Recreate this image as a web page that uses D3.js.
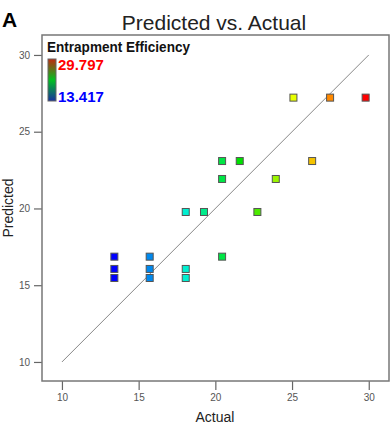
<!DOCTYPE html>
<html><head><meta charset="utf-8">
<script src="https://cdn.jsdelivr.net/npm/d3@7"></script>
<style>body{margin:0;background:#fff}svg{display:block}</style>
</head><body>
<svg id="c" width="392" height="436"></svg>
<script>
const actual    = [13.417,13.417,13.417,15.72,15.72,15.72,18.07,18.07,18.07,19.26,20.44,20.44,20.44,21.59,22.74,23.94,25.09,26.31,27.48,29.797];
const predicted = [16.86,16.06,15.47,16.86,16.06,15.47,19.77,16.06,15.47,19.77,23.09,21.92,16.86,23.09,19.77,21.92,27.22,23.09,27.22,27.22];
const xTicks = [10,15,20,25,30];
const yTicks = [10,15,20,25,30];
const legendRange = [13.417, 29.797];
const titleText = "Predicted vs. Actual";
const legendTitle = "Entrapment Efficiency";

const svg = d3.select("#c");
const L = 42, R = 389, T = 35, B = 381;
const x = d3.scaleLinear().domain([8.70, 31.32]).range([L, R]);
const y = d3.scaleLinear().domain([8.76, 31.3]).range([B, T]);

const color = d3.scaleLinear()
  .domain([13.417, 15.7, 18.1, 21.6, 25.1, 27.5, 29.797])
  .range(["#0000ff","#0088ee","#00f0d0","#00e000","#e8ff00","#ff8800","#ff0000"]);
const legendColor = d3.scaleLinear()
  .domain([0, 0.5, 1])
  .range(["#1530a0","#00c020","#c02a10"]);

// title + panel letter
svg.append("text").attr("x",2).attr("y",27).attr("font-family","Liberation Sans, Arial, sans-serif")
  .attr("font-weight","bold").attr("font-size",21).text("A");
svg.append("text").attr("x",214).attr("y",30).attr("text-anchor","middle")
  .attr("font-family","Liberation Sans, Arial, sans-serif").attr("font-size",21).attr("fill","#222").text(titleText);

// axes
const ax = svg.append("g").attr("transform",`translate(0,${B})`)
  .call(d3.axisBottom(x).tickValues(xTicks).tickSize(9).tickPadding(4));
const ay = svg.append("g").attr("transform",`translate(${L},0)`)
  .call(d3.axisLeft(y).tickValues(yTicks).tickSize(8).tickPadding(4));
[ax,ay].forEach(g=>{
  g.select(".domain").remove();
  g.selectAll("line").attr("stroke","#666").attr("stroke-width",1.2);
  g.selectAll("text").attr("fill","#555").attr("font-size",10)
    .attr("font-family","Liberation Sans, Arial, sans-serif");
});

// frame
svg.append("rect").attr("x",L).attr("y",T).attr("width",R-L).attr("height",B-T)
  .attr("fill","none").attr("stroke","#777").attr("stroke-width",1.5);

// axis labels
svg.append("text").attr("x",215).attr("y",422).attr("text-anchor","middle")
  .attr("font-family","Liberation Sans, Arial, sans-serif").attr("font-size",14).attr("fill","#222").text("Actual");
svg.append("text").attr("transform","translate(13,208) rotate(-90)").attr("text-anchor","middle")
  .attr("font-family","Liberation Sans, Arial, sans-serif").attr("font-size",14).attr("fill","#222").text("Predicted");

// diagonal
svg.append("line").attr("x1",x(10)).attr("y1",y(10)).attr("x2",x(30)).attr("y2",y(30))
  .attr("stroke","#888").attr("stroke-width",1);

// points
const s = 7;
svg.append("g").selectAll("rect").data(actual.map((a,i)=>({a,p:predicted[i]})))
  .join("rect")
  .attr("x",d=>x(d.a)-s/2).attr("y",d=>y(d.p)-s/2).attr("width",s).attr("height",s)
  .attr("fill",d=>color(d.a)).attr("stroke","#555").attr("stroke-width",1);

// legend
svg.append("text").attr("x",47).attr("y",52).attr("font-family","Liberation Sans, Arial, sans-serif")
  .attr("font-weight","bold").attr("font-size",14).attr("textLength",143).attr("lengthAdjust","spacingAndGlyphs")
  .attr("fill","#111").text(legendTitle);
const defs = svg.append("defs");
const grad = defs.append("linearGradient").attr("id","g").attr("x1",0).attr("y1",1).attr("x2",0).attr("y2",0);
d3.range(0,1.0001,0.1).forEach(t=>grad.append("stop").attr("offset",t).attr("stop-color",legendColor(t)));
svg.append("rect").attr("x",48).attr("y",59).attr("width",8).attr("height",42)
  .attr("fill","url(#g)").attr("stroke","#666").attr("stroke-width",1);
svg.append("text").attr("x",58).attr("y",70).attr("font-family","Liberation Sans, Arial, sans-serif")
  .attr("font-weight","bold").attr("font-size",15).attr("fill","#ff0000").text(legendRange[1].toFixed(3));
svg.append("text").attr("x",58).attr("y",102).attr("font-family","Liberation Sans, Arial, sans-serif")
  .attr("font-weight","bold").attr("font-size",15).attr("fill","#0000ff").text(legendRange[0].toFixed(3));
</script>
</body></html>
